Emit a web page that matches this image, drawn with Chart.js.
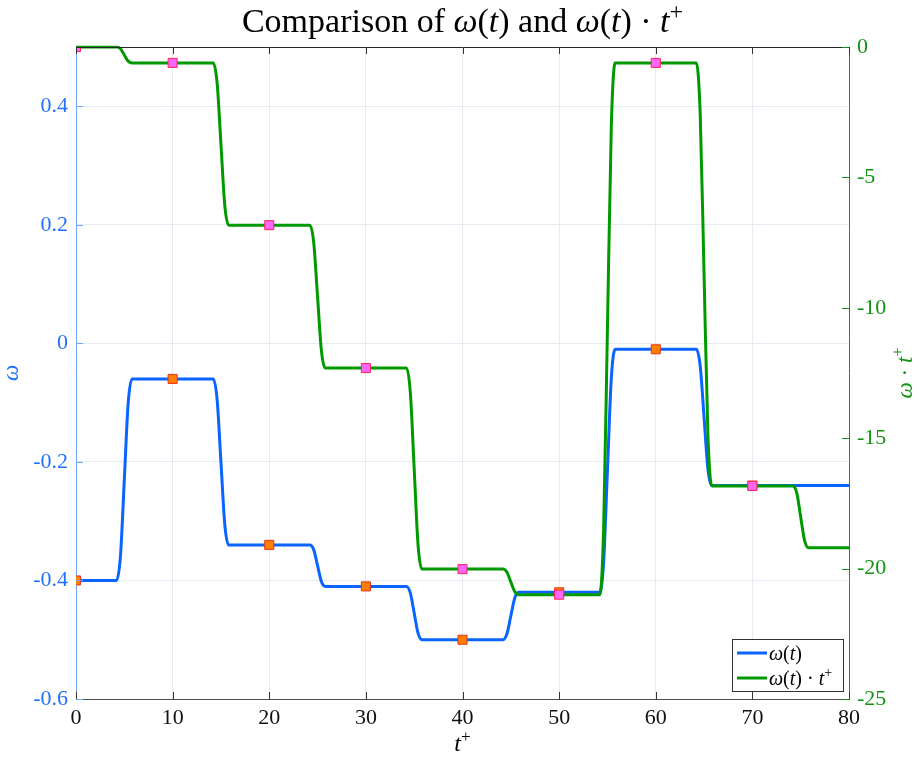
<!DOCTYPE html>
<html>
<head>
<meta charset="utf-8">
<script src="https://cdn.jsdelivr.net/npm/chart.js@4.4.0/dist/chart.umd.min.js"></script>
<style>
html, body { margin: 0; padding: 0; background: #fff; }
#wrap { width: 919px; height: 759px; }
</style>
</head>
<body>
<div id="wrap"><canvas id="c"></canvas></div>
<script>
// omega(t) curve knots
const tOmega = [0,
    4.2, 4.6, 5, 5.4, 5.8,
    14.2, 14.6, 15, 15.4, 15.8,
    24.2, 24.6, 25, 25.4, 25.8,
    34.2, 34.6, 35, 35.4, 35.8,
    44.2, 44.6, 45, 45.4, 45.8,
    54.2, 54.6, 55, 55.4, 55.8,
    64.2, 64.6, 65, 65.4, 65.8,
    80];
const omega = [-0.40,
    -0.40, -0.359, -0.23, -0.101, -0.06,
    -0.06, -0.094, -0.20, -0.306, -0.34,
    -0.34, -0.348, -0.375, -0.402, -0.41,
    -0.41, -0.421, -0.455, -0.489, -0.50,
    -0.50, -0.490, -0.46, -0.430, -0.42,
    -0.42, -0.371, -0.215, -0.059, -0.01,
    -0.01, -0.038, -0.125, -0.212, -0.24,
    -0.24];

// omega(t) * t+ curve knots
const tProduct = [0,
    4.2, 4.6, 5, 5.4, 5.8,
    14.2, 14.6, 15, 15.4, 15.8,
    24.2, 24.6, 25, 25.4, 25.8,
    34.2, 34.6, 35, 35.4, 35.8,
    44.2, 44.6, 45, 45.4, 45.8,
    54.2, 54.6, 55, 55.4, 55.8,
    64.2, 64.6, 65, 65.4, 65.8,
    74.2, 74.6, 75, 75.4, 75.8,
    80];
const product = [0,
    0, -0.07, -0.305, -0.54, -0.61,
    -0.61, -1.36, -3.72, -6.08, -6.83,
    -6.83, -7.49, -9.57, -11.65, -12.31,
    -12.31, -13.24, -16.17, -19.09, -20.02,
    -20.02, -20.14, -20.51, -20.88, -21.0,
    -21.0, -18.55, -10.81, -3.06, -0.61,
    -0.61, -2.56, -8.72, -14.88, -16.83,
    -16.83, -17.11, -18.02, -18.92, -19.2,
    -19.2];

// sample markers
const markT = [0, 10, 20, 30, 40, 50, 60, 70];
const omegaMarks = [-0.40, -0.06, -0.34, -0.41, -0.50, -0.42, -0.01, -0.24];
const productMarks = [0, -0.61, -6.83, -12.31, -20.02, -21.0, -0.61, -16.83];

// tick values
const xTicks = [0, 10, 20, 30, 40, 50, 60, 70, 80];
const omegaTicks = [-0.6, -0.4, -0.2, 0, 0.2, 0.4];
const productTicks = [-25, -20, -15, -10, -5, 0];

const SERIF = "'Liberation Serif', 'DejaVu Serif', serif";
const BLUE = '#0a64ff', BLUE_TXT = '#2272ff', BLUE_AXIS = '#6ea6ff';
const GREEN = '#009a00', GREEN_TXT = '#129412';

function pts(xs, ys) {
    return xs.map((x, i) => ({ x: x, y: ys[i] }));
}

// draw a string made of roman / italic / superscript pieces
function drawMath(ctx, segs, x, y, size, color, align) {
    function font(s) {
        if (s[1] === 's') return Math.round(size * 0.7) + 'px ' + SERIF;
        return (s[1] === 'i' ? 'italic ' : '') + size + 'px ' + SERIF;
    }
    let total = 0;
    segs.forEach(s => { ctx.font = font(s); total += ctx.measureText(s[0]).width; });
    let cx = align === 'left' ? x : x - total / 2;
    ctx.fillStyle = color;
    ctx.textBaseline = 'alphabetic';
    ctx.textAlign = 'left';
    segs.forEach(s => {
        ctx.font = font(s);
        let dy = s[1] === 's' ? -size * 0.38 : 0;
        ctx.fillText(s[0], cx, y + dy);
        cx += ctx.measureText(s[0]).width;
    });
}

const decor = {
    id: 'decor',
    afterDraw(chart) {
        const ctx = chart.ctx;
        const a = chart.chartArea;
        const sx = chart.scales.x, sy = chart.scales.y, sy2 = chart.scales.y2;
        ctx.save();
        // top box line
        ctx.strokeStyle = '#262626';
        ctx.lineWidth = 1;
        ctx.beginPath();
        ctx.moveTo(a.left, a.top + 0.5);
        ctx.lineTo(a.right, a.top + 0.5);
        ctx.stroke();

        // inward tick marks
        const len = 7;
        ctx.beginPath();
        ctx.strokeStyle = '#333';
        xTicks.forEach(v => {
            let px = Math.round(sx.getPixelForValue(v)) + 0.5;
            ctx.moveTo(px, a.bottom); ctx.lineTo(px, a.bottom - len);
            ctx.moveTo(px, a.top); ctx.lineTo(px, a.top + len);
        });
        ctx.stroke();
        ctx.beginPath();
        ctx.strokeStyle = BLUE_AXIS;
        omegaTicks.forEach(v => {
            let py = Math.round(sy.getPixelForValue(v)) + 0.5;
            ctx.moveTo(a.left, py); ctx.lineTo(a.left + len, py);
        });
        ctx.stroke();
        ctx.beginPath();
        ctx.strokeStyle = GREEN_TXT;
        productTicks.forEach(v => {
            let py = Math.round(sy2.getPixelForValue(v)) + 0.5;
            ctx.moveTo(a.right, py); ctx.lineTo(a.right - len, py);
        });
        ctx.stroke();

        // title
        drawMath(ctx, [['Comparison of ', 'r'], ['ω', 'i'], ['(', 'r'], ['t', 'i'], [') and ', 'r'],
            ['ω', 'i'], ['(', 'r'], ['t', 'i'], [') · ', 'r'], ['t', 'i'], ['+', 's']],
            (a.left + a.right) / 2, 32, 34, '#000', 'center');

        // axis titles
        drawMath(ctx, [['t', 'i'], ['+', 's']], (a.left + a.right) / 2, 751, 24, '#000', 'center');
        ctx.save();
        ctx.translate(18, (a.top + a.bottom) / 2);
        ctx.rotate(-Math.PI / 2);
        drawMath(ctx, [['ω', 'i']], 0, 0, 23, BLUE_TXT, 'center');
        ctx.restore();
        ctx.save();
        ctx.translate(912, (a.top + a.bottom) / 2);
        ctx.rotate(-Math.PI / 2);
        drawMath(ctx, [['ω', 'i'], [' · ', 'r'], ['t', 'i'], ['+', 's']], 0, 0, 23, GREEN_TXT, 'center');
        ctx.restore();

        // legend
        const lx = 732.5, ly = 639.5, lw = 111, lh = 52;
        ctx.fillStyle = '#fff';
        ctx.fillRect(lx, ly, lw, lh);
        ctx.strokeStyle = '#333';
        ctx.lineWidth = 1;
        ctx.strokeRect(lx, ly, lw, lh);
        ctx.lineWidth = 3;
        ctx.strokeStyle = BLUE;
        ctx.beginPath(); ctx.moveTo(737, 653); ctx.lineTo(767, 653); ctx.stroke();
        ctx.strokeStyle = GREEN;
        ctx.beginPath(); ctx.moveTo(737, 678); ctx.lineTo(767, 678); ctx.stroke();
        drawMath(ctx, [['ω', 'i'], ['(', 'r'], ['t', 'i'], [')', 'r']], 769, 660, 20, '#000', 'left');
        drawMath(ctx, [['ω', 'i'], ['(', 'r'], ['t', 'i'], [') · ', 'r'], ['t', 'i'], ['+', 's']], 769, 685, 20, '#000', 'left');
        ctx.restore();
    }
};

new Chart(document.getElementById('c'), {
    type: 'line',
    data: {
        datasets: [
            {
                data: pts(markT, productMarks), yAxisID: 'y2', showLine: false,
                pointStyle: 'rect', pointRadius: 6.4, pointBackgroundColor: '#ff66ff',
                pointBorderColor: '#ff2450', pointBorderWidth: 1, clip: 0
            },
            {
                data: pts(markT, omegaMarks), yAxisID: 'y', showLine: false,
                pointStyle: 'rect', pointRadius: 6.4, pointBackgroundColor: '#ff8000',
                pointBorderColor: '#e8331a', pointBorderWidth: 1, clip: 0
            },
            {
                data: pts(tProduct, product), yAxisID: 'y2', borderColor: GREEN, borderWidth: 3,
                pointRadius: 0, cubicInterpolationMode: 'monotone', clip: 1.5
            },
            {
                data: pts(tOmega, omega), yAxisID: 'y', borderColor: BLUE, borderWidth: 3,
                pointRadius: 0, cubicInterpolationMode: 'monotone', clip: 1.5
            }
        ]
    },
    options: {
        responsive: true,
        maintainAspectRatio: false,
        animation: false,
        layout: { padding: { top: 47, left: 0, right: 0, bottom: 0 } },
        plugins: { legend: { display: false }, tooltip: { enabled: false } },
        scales: {
            x: {
                type: 'linear', min: 0, max: 80,
                afterBuildTicks: s => { s.ticks = xTicks.map(v => ({ value: v })); },
                afterFit: s => { s.height = 60; },
                ticks: { color: '#111', padding: 6, font: { family: SERIF, size: 22 } },
                grid: { color: '#e6ebf2', drawTicks: false },
                border: { color: '#4d4d4d' }
            },
            y: {
                type: 'linear', position: 'left', min: -0.6, max: 0.5,
                afterBuildTicks: s => { s.ticks = omegaTicks.map(v => ({ value: v })); },
                afterFit: s => { s.width = 76; },
                ticks: {
                    color: BLUE_TXT, padding: 8, font: { family: SERIF, size: 22 },
                    callback: v => Math.abs(v) < 1e-9 ? '0' : v.toFixed(1)
                },
                grid: { color: '#e6ebf2', drawTicks: false },
                border: { color: BLUE_AXIS }
            },
            y2: {
                type: 'linear', position: 'right', min: -25, max: 0,
                afterBuildTicks: s => { s.ticks = productTicks.map(v => ({ value: v })); },
                afterFit: s => { s.width = 70; },
                ticks: { color: GREEN_TXT, padding: 8, font: { family: SERIF, size: 22 } },
                grid: { display: false, drawTicks: false },
                border: { color: GREEN_TXT }
            }
        }
    },
    plugins: [decor]
});
</script>
</body>
</html>
